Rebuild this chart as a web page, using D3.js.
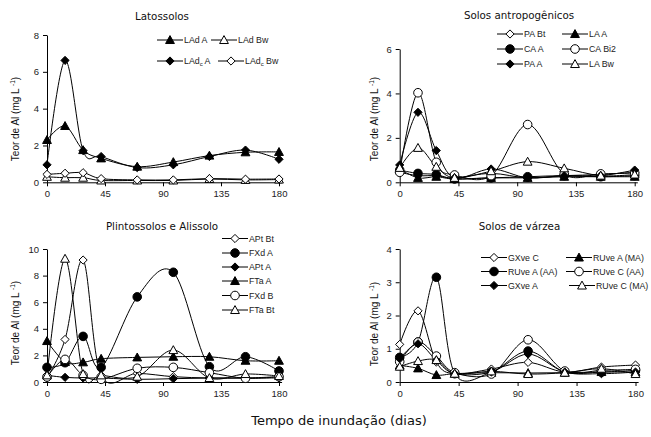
<!DOCTYPE html>
<html><head><meta charset="utf-8">
<script src="https://cdn.jsdelivr.net/npm/d3@7"></script>
<style>body{margin:0;background:#fff} svg{display:block}</style>
</head><body>
<script>
// ---------- DATA ----------
const days = [0, 14, 28, 42, 70, 98, 126, 154, 180];
const xTickValues = [0, 45, 90, 135, 180];

// Latossolos
const lat_yTicks = [0, 2, 4, 6, 8];
const lat_LAdA   = [2.3, 3.06, 1.75, 1.3, 0.85, 1.1, 1.45, 1.63, 1.65];
const lat_LAdBw  = [0.3, 0.25, 0.25, 0.1, 0.1, 0.1, 0.18, 0.13, 0.15];
const lat_LAdcA  = [0.95, 6.62, 1.72, 1.4, 0.8, 0.95, 1.4, 1.75, 1.25];
const lat_LAdcBw = [0.43, 0.49, 0.52, 0.2, 0.13, 0.13, 0.2, 0.17, 0.18];

// Solos antropogênicos
const ant_yTicks = [0, 2, 4, 6];
const ant_PABt  = [0.45, 0.3, 0.3, 0.2, 0.4, 0.2, 0.3, 0.35, 0.45];
const ant_LAA   = [0.6, 0.2, 0.25, 0.15, 0.2, 0.2, 0.25, 0.25, 0.25];
const ant_CAA   = [0.55, 0.4, 0.35, 0.15, 0.2, 0.25, 0.3, 0.25, 0.3];
const ant_CABi2 = [0.45, 4.03, 0.9, 0.33, 0.3, 2.6, 0.37, 0.38, 0.42];
const ant_PAA   = [0.78, 3.15, 1.43, 0.2, 0.6, 0.2, 0.3, 0.3, 0.55];
const ant_LABw  = [0.65, 1.55, 0.7, 0.2, 0.5, 0.93, 0.63, 0.3, 0.35];

// Plintossolos e Alissolo
const pli_yTicks = [0, 2, 4, 6, 8, 10];
const pli_APtBt = [0.3, 3.2, 9.17, 0.5, 0.65, 0.4, 0.3, 0.3, 0.4];
const pli_FXdA  = [1.1, 1.45, 3.43, 1.1, 6.4, 8.25, 1.15, 1.9, 0.83];
const pli_APtA  = [0.5, 0.35, 0.3, 0.3, 0.2, 0.25, 0.3, 0.3, 0.3];
const pli_FTaA  = [3.08, 1.5, 1.48, 1.75, 1.85, 1.9, 1.9, 1.6, 1.6];
const pli_FXdB  = [0.38, 1.7, 0.5, 0.2, 1.03, 1.1, 0.7, 0.28, 0.4];
const pli_FTaBt = [0.5, 9.27, 0.6, 0.5, 0.4, 2.4, 0.3, 0.6, 0.45];

// Solos de várzea
const var_yTicks = [0, 1, 2, 3, 4];
const var_GXveC   = [1.13, 2.14, 0.6, 0.25, 0.39, 0.59, 0.3, 0.45, 0.51];
const var_RUveAAA = [0.74, 1.2, 3.15, 0.25, 0.3, 0.93, 0.3, 0.3, 0.35];
const var_GXveA   = [0.7, 1.15, 0.65, 0.25, 0.3, 0.84, 0.3, 0.25, 0.3];
const var_RUveAMA = [0.5, 0.41, 0.21, 0.25, 0.28, 0.27, 0.28, 0.3, 0.3];
const var_RUveCAA = [0.61, 1.2, 0.78, 0.28, 0.24, 1.27, 0.33, 0.35, 0.38];
const var_RUveCMA = [0.46, 0.63, 0.66, 0.25, 0.32, 0.24, 0.28, 0.4, 0.24];

// ---------- LAYOUT ----------
const panels = [
  { title: "Latossolos", tx: 162, ty: 20, x0: 47, x1: 279, yb: 182.3, yt: 35, ymax: 8, yTicks: lat_yTicks,
    ytx: 19, yty: 119,
    series: [
      { name: ["LAd", "", " A"], v: lat_LAdA, m: "triF", lx: 157, ly: 40 },
      { name: ["LAd", "", " Bw"], v: lat_LAdBw, m: "triO", lx: 211, ly: 40 },
      { name: ["LAd", "c", " A"], v: lat_LAdcA, m: "diaF", lx: 157, ly: 61 },
      { name: ["LAd", "c", " Bw"], v: lat_LAdcBw, m: "diaO", lx: 218, ly: 61 }
    ] },
  { title: "Solos antropogênicos", tx: 519, ty: 19, x0: 399.7, x1: 634.7, yb: 182.3, yt: 49, ymax: 6, yTicks: ant_yTicks,
    ytx: 378, yty: 119,
    series: [
      { name: ["PA Bt"], v: ant_PABt, m: "diaO", lx: 497, ly: 34 },
      { name: ["LA A"], v: ant_LAA, m: "triF", lx: 562, ly: 34 },
      { name: ["CA A"], v: ant_CAA, m: "cirF", lx: 497, ly: 49 },
      { name: ["CA Bi2"], v: ant_CABi2, m: "cirO", lx: 562, ly: 49 },
      { name: ["PA A"], v: ant_PAA, m: "diaF", lx: 497, ly: 64 },
      { name: ["LA Bw"], v: ant_LABw, m: "triO", lx: 562, ly: 64 }
    ] },
  { title: "Plintossolos e Alissolo", tx: 162, ty: 229.5, x0: 47, x1: 279, yb: 382, yt: 249, ymax: 10, yTicks: pli_yTicks,
    ytx: 19, yty: 323,
    series: [
      { name: ["APt Bt"], v: pli_APtBt, m: "diaO", lx: 222, ly: 238.5 },
      { name: ["FXd A"], v: pli_FXdA, m: "cirF", lx: 222, ly: 253 },
      { name: ["APt A"], v: pli_APtA, m: "diaF", lx: 222, ly: 267 },
      { name: ["FTa A"], v: pli_FTaA, m: "triF", lx: 222, ly: 281 },
      { name: ["FXd B"], v: pli_FXdB, m: "cirO", lx: 222, ly: 295.5 },
      { name: ["FTa Bt"], v: pli_FTaBt, m: "triO", lx: 222, ly: 310 }
    ] },
  { title: "Solos de várzea", tx: 519.5, ty: 229.5, x0: 399.7, x1: 635.5, yb: 382, yt: 249, ymax: 4, yTicks: var_yTicks,
    ytx: 378, yty: 324,
    series: [
      { name: ["GXve C"], v: var_GXveC, m: "diaO", lx: 481, ly: 257.5 },
      { name: ["RUve A (MA)"], v: var_RUveAMA, m: "triF", lx: 566, ly: 257.5 },
      { name: ["RUve A (AA)"], v: var_RUveAAA, m: "cirF", lx: 481, ly: 271.5 },
      { name: ["RUve C (AA)"], v: var_RUveCAA, m: "cirO", lx: 566, ly: 271.5 },
      { name: ["GXve A"], v: var_GXveA, m: "diaF", lx: 481, ly: 285.5 },
      { name: ["RUve C (MA)"], v: var_RUveCMA, m: "triO", lx: 569, ly: 285.5 }
    ] }
];

// ---------- DRAW ----------
const svg = d3.select("body").append("svg").attr("width", 651).attr("height", 437);
const tickFont = "'Liberation Sans', Arial, sans-serif";
const titleFont = "'DejaVu Sans', Verdana, sans-serif";
const fmt = d3.format("d");

function markerPath(type) {
  const k = type.slice(0, 3);
  if (k === "tri") { const r = 4.4; return `M0,${-r}L${r},${r * 0.8}L${-r},${r * 0.8}Z`; }
  if (k === "dia") { const r = 4.1; return `M0,${-r}L${r},0L0,${r}L${-r},0Z`; }
  const r = 4.3; return `M${r},0A${r},${r} 0 1,1 ${-r},0A${r},${r} 0 1,1 ${r},0Z`;
}
function drawMarker(g, type, x, y) {
  const filled = type.endsWith("F");
  g.append("path").attr("d", markerPath(type))
    .attr("transform", `translate(${x},${y})`)
    .attr("fill", filled ? "#000" : "#fff")
    .attr("stroke", "#000").attr("stroke-width", 1);
}

const line = d3.line().curve(d3.curveCardinal.tension(0));

panels.forEach(p => {
  const g = svg.append("g");
  const x = d3.scaleLinear().domain([0, 182]).range([p.x0, p.x0 + (p.x1 - p.x0) * 182 / 180]);
  const y = d3.scaleLinear().domain([0, p.ymax]).range([p.yb, p.yt]);

  // title
  g.append("text").attr("x", p.tx).attr("y", p.ty).attr("text-anchor", "middle")
    .attr("font-family", titleFont).attr("font-size", 10.3).attr("fill", "#111").text(p.title);

  // axes
  const ax = g.append("g").attr("transform", `translate(0,${p.yb})`)
    .call(d3.axisBottom(x).tickValues(xTickValues).tickFormat(fmt).tickSize(4).tickSizeOuter(0).tickPadding(4));
  const ay = g.append("g").attr("transform", `translate(${p.x0},0)`)
    .call(d3.axisLeft(y).tickValues(p.yTicks).tickFormat(fmt).tickSize(4).tickSizeOuter(0).tickPadding(4));
  [ax, ay].forEach(a => {
    a.select(".domain").attr("stroke", "#000");
    a.selectAll(".tick line").attr("stroke", "#000");
    a.selectAll("text").attr("font-family", tickFont).attr("font-size", 9.5).attr("fill", "#222");
  });

  // y title
  const yt = g.append("text").attr("transform", `translate(${p.ytx},${p.yty}) rotate(-90)`)
    .attr("text-anchor", "middle").attr("font-family", tickFont).attr("font-size", 10).attr("fill", "#111");
  yt.append("tspan").text("Teor de Al (mg L ");
  yt.append("tspan").attr("font-size", 6.5).attr("dy", -4).text("-1");
  yt.append("tspan").attr("dy", 4).text(")");

  // lines
  p.series.forEach(s => {
    g.append("path").attr("d", line(s.v.map((d, i) => [x(days[i]), y(d)])))
      .attr("fill", "none").attr("stroke", "#000").attr("stroke-width", 1);
  });
  // markers
  p.series.forEach(s => {
    s.v.forEach((d, i) => drawMarker(g, s.m, x(days[i]), y(d)));
  });

  // legend
  p.series.forEach(s => {
    g.append("line").attr("x1", s.lx).attr("x2", s.lx + 26).attr("y1", s.ly).attr("y2", s.ly)
      .attr("stroke", "#000").attr("stroke-width", 1);
    drawMarker(g, s.m, s.lx + 13, s.ly);
    const t = g.append("text").attr("x", s.lx + 27).attr("y", s.ly + 3.2)
      .attr("font-family", tickFont).attr("font-size", 8.8).attr("fill", "#222");
    t.append("tspan").text(s.name[0]);
    if (s.name.length > 1) {
      if (s.name[1]) t.append("tspan").attr("font-size", 6).attr("dy", 2).text(s.name[1]);
      t.append("tspan").attr("dy", s.name[1] ? -2 : 0).text(s.name[2]);
    }
  });
});

svg.append("text").attr("x", 339).attr("y", 425).attr("text-anchor", "middle")
  .attr("font-family", titleFont).attr("font-size", 13).attr("fill", "#111")
  .text("Tempo de inundação (dias)");
</script>
</body></html>
